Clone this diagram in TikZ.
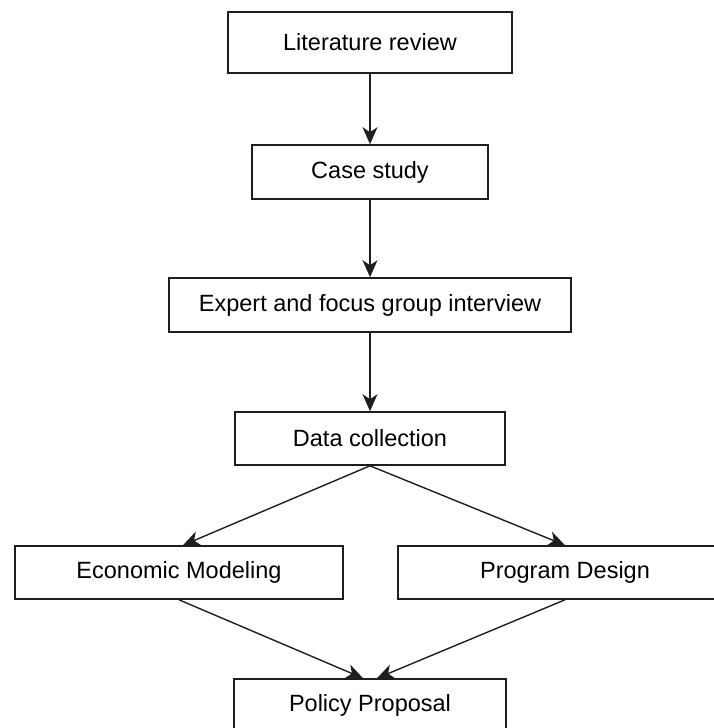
\documentclass[tikz,border=0pt]{standalone}
\usepackage{fontspec}
\setmainfont{Liberation Sans}
\usetikzlibrary{arrows.meta,calc}
\definecolor{ink}{RGB}{30,30,30}
\tikzset{
  box/.style={draw=ink, line width=1.6pt, rectangle, inner sep=0pt, text=black,
              font=\fontsize{23.5}{28}\selectfont},
  conn/.style={draw=ink, line width=1.4pt, -{Stealth[length=17pt,width=15pt,inset=5pt]}}
}
\begin{document}
\begin{tikzpicture}[x=1pt,y=-1pt]
\useasboundingbox (0,0) rectangle (714,728);
\clip (0,0) rectangle (714,728);
\node[box, minimum width=284pt, minimum height=61pt] (lit) at (370,42.5) {Literature review};
\node[box, minimum width=236pt, minimum height=54pt] (case) at (370,172) {Case study};
\node[box, minimum width=402pt, minimum height=54pt] (expert) at (370,305) {Expert and focus group interview};
\node[box, minimum width=270pt, minimum height=53pt] (data) at (370,438.5) {Data collection};
\node[box, minimum width=328pt, minimum height=53pt] (econ) at (179,572.5) {Economic Modeling};
\node[box, minimum width=334pt, minimum height=53pt] (prog) at (565,572.5) {Program Design};
\node[box, minimum width=272pt, minimum height=53pt] (policy) at (370,705.5) {Policy Proposal};
\draw[conn] (lit.south) -- (case.north);
\draw[conn] (case.south) -- (expert.north);
\draw[conn] (expert.south) -- (data.north);
\draw[conn] (data.south) -- ($(econ.north)+(4,0)$);
\draw[conn] (data.south) -- (prog.north);
\draw[conn] (econ.south) -- ($(policy.north)+(-7,0)$);
\draw[conn] (prog.south) -- ($(policy.north)+(7,0)$);
\end{tikzpicture}
\end{document}
